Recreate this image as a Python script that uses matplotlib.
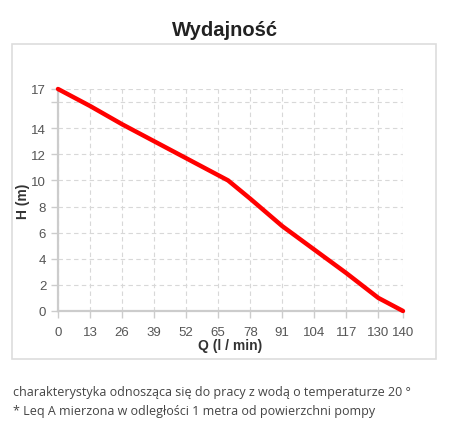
import matplotlib
matplotlib.use("Agg")
from matplotlib import patches as patches
from matplotlib import pyplot as plt

# pump curve
flow = [0, 13, 26, 39, 52, 69, 78, 91, 104, 117, 130, 140]
head = [17, 15.7, 14.3, 13.0, 11.7, 10.0, 8.6, 6.5, 4.7, 2.9, 1.0, 0]

x_ticks = [0, 13, 26, 39, 52, 65, 78, 91, 104, 117, 130, 140]
y_ticks = [0, 2, 4, 6, 8, 10, 12, 14, 16, 17]
y_labels = ["0", "2", "4", "6", "8", "10", "12", "14", "", "17"]

title = "Wydajność"
x_label = "Q (l / min)"
y_label = "H (m)"
notes = [
    "charakterystyka odnosząca się do pracy z wodą o temperaturze 20 °",
    "* Leq A mierzona w odległości 1 metra od powierzchni pompy",
]

plt.rcParams["font.family"] = ["Liberation Sans", "DejaVu Sans"]

W, H = 450, 431
fig = plt.figure(figsize=(W / 100, H / 100), dpi=100)

# light frame around the chart
fig.add_artist(
    patches.Rectangle(
        (12 / W, 1 - 360 / H),
        424 / W,
        315 / H,
        fill=False,
        edgecolor="#dddddd",
        linewidth=1.2,
        transform=fig.transFigure,
    )
)

fig.text(225 / W, 1 - 30 / H, title, ha="center", va="center",
         fontsize=14.5, fontweight="bold", color="#222222")

axes = fig.add_axes([58 / W, 1 - 312 / H, 345 / W, 222 / H])
axes.plot(flow, head, color="#ff0000", linewidth=3.2, solid_capstyle="round",
          zorder=5, clip_on=False)

axes.set_xlim(0, 140)
axes.set_ylim(0, 17)
axes.set_xticks(x_ticks)
axes.set_yticks(y_ticks)
axes.set_yticklabels(y_labels)
axes.grid(True, linestyle=(0, (4, 3)), color="#d8d8d8", linewidth=0.8)
axes.set_axisbelow(True)

for side in ("top", "right"):
    axes.spines[side].set_visible(False)
for side in ("left", "bottom"):
    axes.spines[side].set_color("#cccccc")
    axes.spines[side].set_linewidth(1.6)

axes.tick_params(colors="#cccccc", labelcolor="#555555", labelsize=9.5,
                 length=5, width=1)
axes.tick_params(axis="x", pad=6)

axes.set_xlabel(x_label, fontsize=10, fontweight="bold", color="#333333",
                labelpad=0)
axes.set_ylabel(y_label, fontsize=10, fontweight="bold", color="#333333",
                labelpad=1)

for i, line in enumerate(notes):
    fig.text(13 / W, 1 - (393 + i * 19) / H, line, ha="left", va="center",
             fontsize=9, color="#444444", family=["Open Sans", "DejaVu Sans"])

fig.savefig("out.png", dpi=100)
